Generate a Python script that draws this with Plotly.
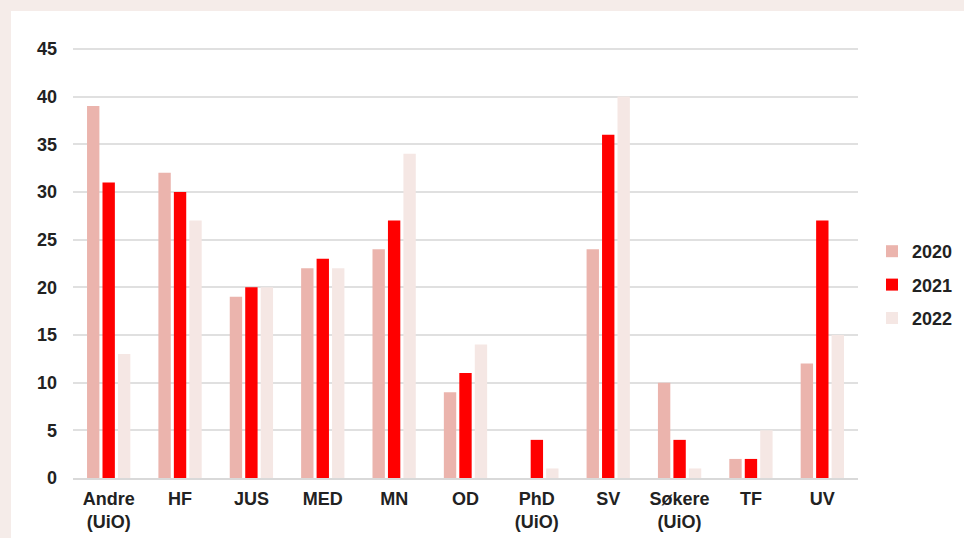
import plotly.graph_objects as go

categories = ["Andre<br>(UiO)", "HF", "JUS", "MED", "MN", "OD", "PhD<br>(UiO)", "SV", "Søkere<br>(UiO)", "TF", "UV"]
v2020 = [39, 32, 19, 22, 24, 9, 0, 24, 10, 2, 12]
v2021 = [31, 30, 20, 23, 27, 11, 4, 36, 4, 2, 27]
v2022 = [13, 27, 20, 22, 34, 14, 1, 40, 1, 5, 15]
series_names = ["2020", "2021", "2022"]
colors = ["#ebb4ad", "#ff0000", "#f5e7e4"]

W, H = 964, 538
L, R, T, B = 73, 106, 47, 60
pw, ph = W - L - R, H - T - B

fig = go.Figure()
for name, vals, col in zip(series_names, [v2020, v2021, v2022], colors):
    fig.add_trace(go.Bar(x=categories, y=vals, name=name, marker_color=col,
                         marker_line_width=0, legendgroup=name))

FAM = "Liberation Sans, Arial, sans-serif"
tf = dict(family=FAM, size=18, color="#222222", weight="bold")

fig.update_layout(
    width=W, height=H,
    margin=dict(l=L, r=R, t=T, b=B),
    paper_bgcolor="#f5ece9",
    plot_bgcolor="white",
    barmode="group",
    bargap=0.35,
    bargroupgap=0.2,
    font=dict(family=FAM, size=18, color="#222222"),
    showlegend=True,
    legend=dict(xref="container", x=872 / W, xanchor="left",
                yref="container", y=(H - 285) / H, yanchor="middle",
                font=tf, tracegroupgap=7, itemwidth=30, bgcolor="rgba(0,0,0,0)"),
    xaxis=dict(showgrid=False, showline=True, linecolor="#d9d9d9", linewidth=2,
               ticks="", tickfont=tf, ticklabelstandoff=3, automargin=False),
    yaxis=dict(range=[0, 45.2], dtick=5, showgrid=True, gridcolor="#e0e0e0", gridwidth=2,
               zeroline=False, ticks="", ticklabelstandoff=15, tickfont=tf, automargin=False),
    shapes=[dict(type="rect", xref="paper", yref="paper", layer="below",
                 x0=(11 - L) / pw, x1=(W - L + 5) / pw,
                 y0=-(B + 10) / ph, y1=(H - B - 11) / ph,
                 fillcolor="white", line_width=0)],
)

fig.write_html("out.html", config={"displayModeBar": False},
               post_script="document.body.style.margin='0px';document.body.style.overflow='hidden';")
